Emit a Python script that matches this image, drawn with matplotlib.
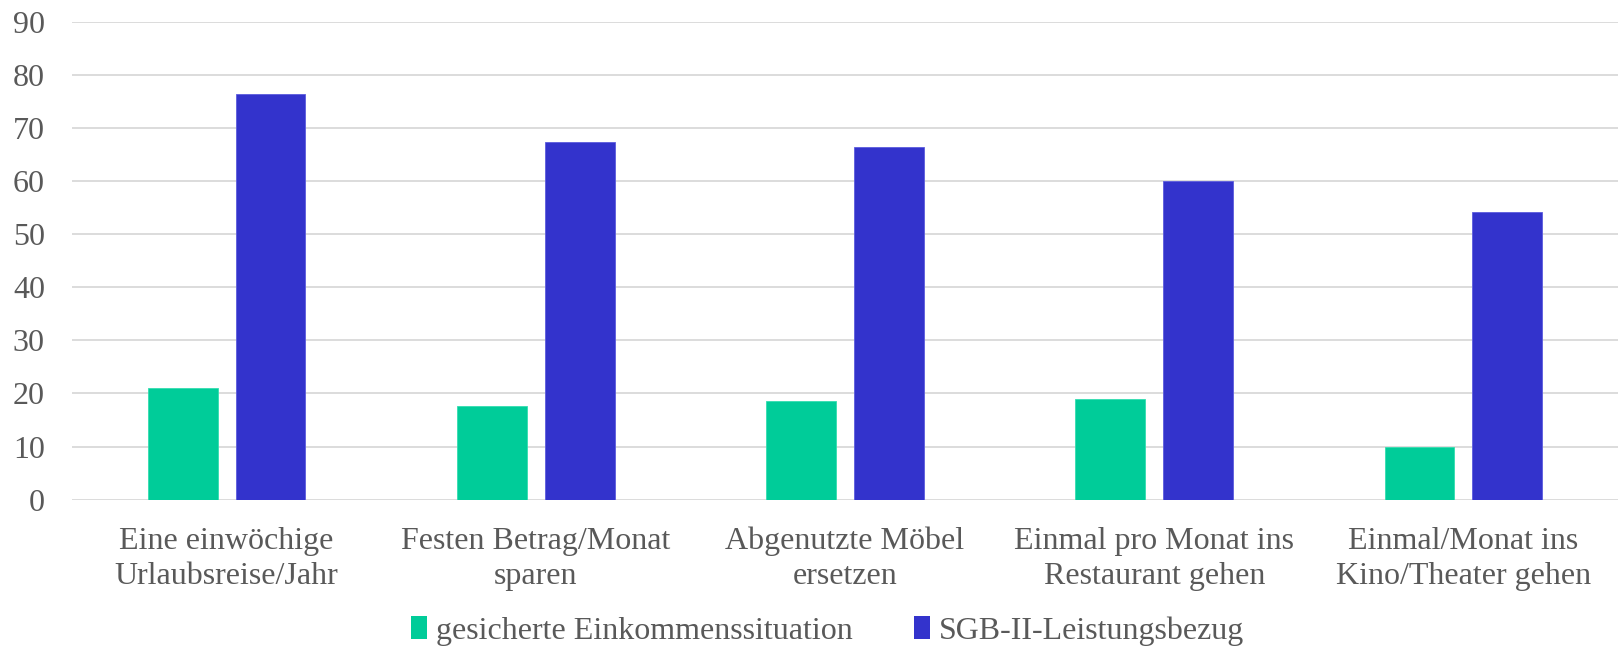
import numpy as np
import matplotlib.pyplot as plt
from matplotlib.patches import Patch

# Data
categories = [
    "Eine einwöchige\nUrlaubsreise/Jahr",
    "Festen Betrag/Monat\nsparen",
    "Abgenutzte Möbel\nersetzen",
    "Einmal pro Monat ins\nRestaurant gehen",
    "Einmal/Monat ins\nKino/Theater gehen",
]
series_names = ["gesicherte Einkommenssituation", "SGB-II-Leistungsbezug"]
gesichert = [21.0, 17.7, 18.5, 19.0, 9.9]
sgb2 = [76.3, 67.4, 66.5, 60.1, 54.2]
yticks = list(range(0, 100, 10))

green = "#00CC99"
blue = "#3333CC"
grey_text = "#595959"
grid_col = "#D9D9D9"

plt.rcParams["font.family"] = ["Liberation Serif", "DejaVu Serif"]

fig = plt.figure(figsize=(16.18, 6.5), dpi=100)
ax = fig.add_axes([72 / 1618, 0.2312, 1546 / 1618, 0.7354])

x = np.arange(len(categories))
w = 0.226
off = 0.142
ax.bar(x - off, gesichert, width=w, color=green, edgecolor="#33DDB0", linewidth=0.6, zorder=3)
ax.bar(x + off, sgb2, width=w, color=blue, edgecolor="#5C5CDD", linewidth=0.6, zorder=3)

ax.set_xlim(-0.5, len(categories) - 0.5)
ax.set_ylim(0, 90)
ax.set_yticks(yticks)
ax.set_xticks(x)
ax.set_xticklabels(categories, linespacing=1.27, fontsize=23)

for s in ax.spines.values():
    s.set_visible(False)
ax.grid(axis="y", color=grid_col, linewidth=1.3, zorder=0)
ax.tick_params(axis="both", length=0, colors=grey_text)
ax.tick_params(axis="y", pad=19.5, labelsize=23)
ax.tick_params(axis="x", pad=19.5)

handles = [Patch(facecolor=green, edgecolor="none"), Patch(facecolor=blue, edgecolor="none")]
leg = fig.legend(handles, series_names, loc="center", bbox_to_anchor=(0.5115, 1 - 631 / 650),
                 ncol=2, frameon=False, fontsize=23, handlelength=0.5, handleheight=0.7,
                 handletextpad=0.3, columnspacing=1.9)
for t in leg.get_texts():
    t.set_color(grey_text)

fig.savefig("out.png", dpi=100)
